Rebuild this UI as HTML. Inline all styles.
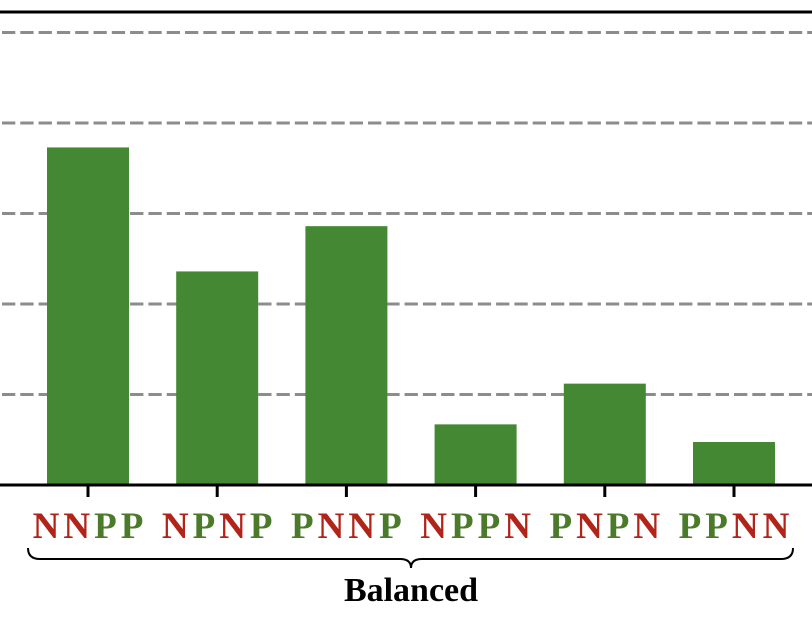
<!DOCTYPE html>
<html><head><meta charset="utf-8"><style>
html,body{margin:0;padding:0;background:#fff;}
svg{display:block;}
text{font-family:"Liberation Serif",serif;font-weight:bold;}
</style></head><body>
<svg id="chart" width="812" height="620" viewBox="0 0 812 620" xmlns="http://www.w3.org/2000/svg">
<g id="grid"></g>
<g id="bars"></g>
<line x1="0" y1="12" x2="812" y2="12" stroke="#000" stroke-width="3"/>
<line x1="0" y1="485" x2="812" y2="485" stroke="#000" stroke-width="3"/>
<g id="ticks"></g>
<path d="M28,548 Q28,559 40,559 L400,559 Q411,559 411,568 Q411,559 422,559 L781,559 Q793,559 793,548" fill="none" stroke="#000" stroke-width="2"/>
<text x="411" y="601" font-size="34" text-anchor="middle" fill="#000">Balanced</text>
</svg>
<script>
const categories = ["NNPP","NPNP","PNNP","NPPN","PNPN","PPNN"];
const values = [3.73, 2.36, 2.86, 0.67, 1.12, 0.475];
const gridValues = [1, 2, 3, 4, 5];
const NS = "http://www.w3.org/2000/svg";
const y0 = 485, unit = 90.5;
const yScale = v => y0 - v * unit;
const x0 = 88, step = 129.2, barW = 82;
const xScale = i => x0 + i * step;
const grid = document.getElementById('grid');
gridValues.forEach(g => {
  const l = document.createElementNS(NS, 'line');
  
  
  l.setAttribute('x1', 2); l.setAttribute('x2', 812);
  l.setAttribute('y1', yScale(g)); l.setAttribute('y2', yScale(g));
  l.setAttribute('stroke', '#8c8c8c'); l.setAttribute('stroke-width', '3');
  l.setAttribute('stroke-dasharray', '13.3,5');
  grid.appendChild(l);
});
const bars = document.getElementById('bars');
const ticks = document.getElementById('ticks');
categories.forEach((c, i) => {
  const cx = xScale(i);
  const r = document.createElementNS(NS, 'rect');
  
  
  r.setAttribute('x', cx - barW / 2);
  r.setAttribute('y', yScale(values[i]));
  r.setAttribute('width', barW);
  r.setAttribute('height', y0 - yScale(values[i]));
  r.setAttribute('fill', '#458833');
  bars.appendChild(r);
  const t = document.createElementNS(NS, 'line');
  
  
  t.setAttribute('x1', cx); t.setAttribute('x2', cx);
  t.setAttribute('y1', y0); t.setAttribute('y2', y0 + 12);
  t.setAttribute('stroke', '#000'); t.setAttribute('stroke-width', '3');
  ticks.appendChild(t);
  const tx = document.createElementNS(NS, 'text');
  
  
  tx.setAttribute('x', cx + 2); tx.setAttribute('y', 538);
  tx.setAttribute('font-size', '37');
  tx.setAttribute('text-anchor', 'middle');
  tx.setAttribute('letter-spacing', '4');
  c.split('').forEach(ch => {
    const s = document.createElementNS(NS, 'tspan');
    s.textContent = ch;
    s.setAttribute('fill', ch === 'N' ? '#b0241a' : '#4a7a2a');
    tx.appendChild(s);
  });
  ticks.appendChild(tx);
});
</script>
</body></html>
